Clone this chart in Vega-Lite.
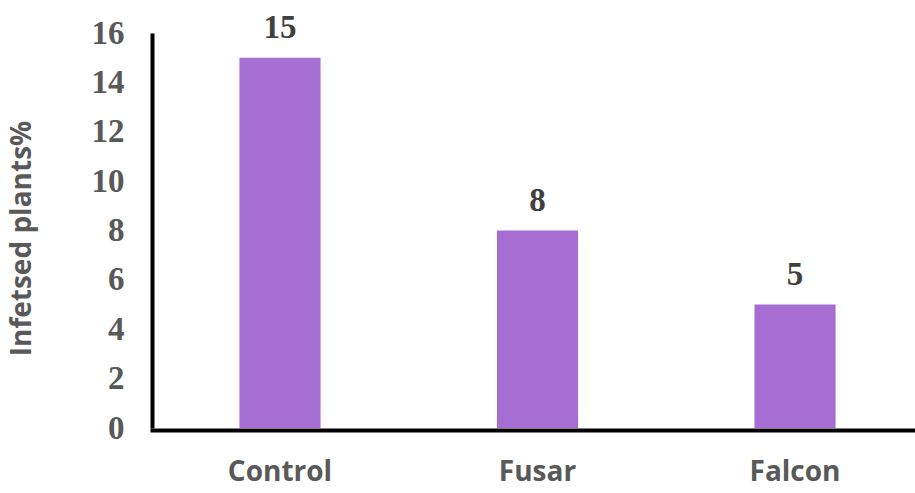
{
  "$schema": "https://vega.github.io/schema/vega-lite/v6.json",
  "autosize": "none",
  "width": 763,
  "height": 395,
  "padding": {"left": 152, "top": 33, "right": 0, "bottom": 65},
  "background": "white",
  "config": {"view": {"stroke": null}},
  "data": {"values": [
    {"treatment": "Control", "value": 15},
    {"treatment": "Fusar", "value": 8},
    {"treatment": "Falcon", "value": 5}
  ]},
  "encoding": {
    "x": {
      "field": "treatment", "type": "nominal", "sort": null,
      "scale": {"paddingInner": 0.685, "paddingOuter": 0.324, "align": 0.524},
      "axis": {
        "title": null, "labelAngle": 0, "ticks": false,
        "domainColor": "black", "domainWidth": 4, "domainCap": "square", "offset": 2,
        "labelFont": "Open Sans", "labelFontWeight": "bold", "labelFontSize": 28,
        "labelColor": "#595959", "labelPadding": 28
      }
    },
    "y": {
      "field": "value", "type": "quantitative",
      "scale": {"domain": [0, 16], "nice": false},
      "axis": {
        "title": "Infetsed plants%", "values": [0, 2, 4, 6, 8, 10, 12, 14, 16],
        "grid": false, "ticks": false,
        "domainColor": "black", "domainWidth": 4,
        "labelFont": "Liberation Serif", "labelFontWeight": "bold", "labelFontSize": 33,
        "labelColor": "#595959", "labelPadding": 28,
        "titleFont": "Open Sans", "titleFontWeight": "bold", "titleFontSize": 28,
        "titleColor": "#595959", "titlePadding": 55, "titleY": 205
      }
    }
  },
  "layer": [
    {"mark": {"type": "bar", "color": "#A66ED2"}},
    {
      "mark": {"type": "text", "dy": -20, "baseline": "alphabetic", "font": "Liberation Serif", "fontWeight": "bold", "fontSize": 33, "color": "#404040"},
      "encoding": {"text": {"field": "value", "type": "quantitative"}}
    }
  ]
}
